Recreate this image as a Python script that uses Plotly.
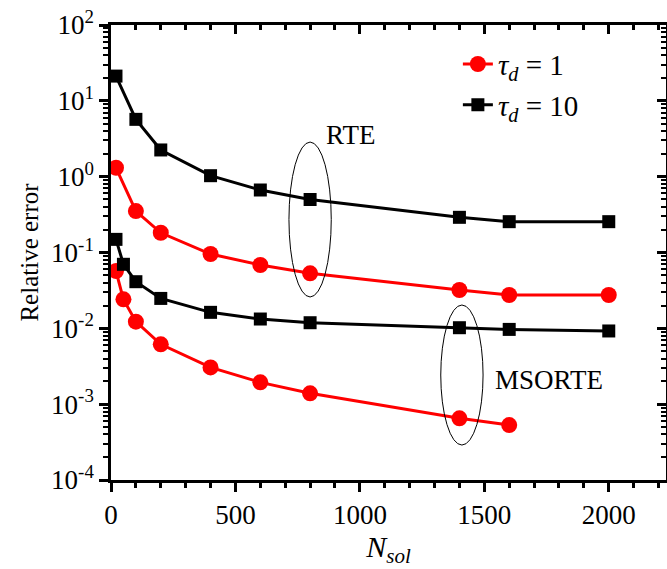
import plotly.graph_objects as go

# Number of solution points and relative errors for each method / optical thickness
n_rte = [20, 100, 200, 400, 600, 800, 1400, 1600, 2000]
rte_tau1 = [1.31, 0.352, 0.182, 0.0955, 0.0684, 0.0531, 0.032, 0.0275, 0.0275]
rte_tau10 = [21.2, 5.7, 2.25, 1.03, 0.667, 0.50, 0.291, 0.255, 0.255]

n_msorte_tau1 = [20, 50, 100, 200, 400, 600, 800, 1400, 1600]
msorte_tau1 = [0.057, 0.0241, 0.01224, 0.00615, 0.00305, 0.00194, 0.00139, 0.00065, 0.00053]
n_msorte_tau10 = [20, 50, 100, 200, 400, 600, 800, 1400, 1600, 2000]
msorte_tau10 = [0.149, 0.0699, 0.0412, 0.0248, 0.01625, 0.01327, 0.01186, 0.01019, 0.00968, 0.00923]

x_ticks = [0, 500, 1000, 1500, 2000]
x_range = [0, 2230]
y_exponents = [-4, -3, -2, -1, 0, 1, 2]
y_tickvals = [10.0 ** e for e in y_exponents]
y_ticktext = [f"10<sup>{e}</sup>" for e in y_exponents]
y_minor = [m * 10.0 ** e for e in y_exponents[:-1] for m in range(2, 10)]
y_range_log = [-4, 2]

RED = "#ff0000"
BLACK = "#000000"
FONT = "Liberation Serif, Times New Roman, serif"

fig = go.Figure()

red_line = dict(color=RED, width=3)
red_marker = dict(symbol="circle", size=16, color=RED)
black_line = dict(color=BLACK, width=3)
black_marker = dict(symbol="square", size=13, color=BLACK)

fig.add_trace(go.Scatter(x=n_rte, y=rte_tau1, mode="lines+markers", line=red_line,
                         marker=red_marker, name="<i>τ</i><sub><i>d</i></sub> = 1"))
fig.add_trace(go.Scatter(x=n_rte, y=rte_tau10, mode="lines+markers", line=black_line,
                         marker=black_marker, name="<i>τ</i><sub><i>d</i></sub> = 10"))
fig.add_trace(go.Scatter(x=n_msorte_tau1, y=msorte_tau1, mode="lines+markers", line=red_line,
                         marker=red_marker, showlegend=False))
fig.add_trace(go.Scatter(x=n_msorte_tau10, y=msorte_tau10, mode="lines+markers", line=black_line,
                         marker=black_marker, showlegend=False))

# Invisible trace that carries the mirrored top / right axes
fig.add_trace(go.Scatter(x=x_range, y=[1, 1], xaxis="x2", yaxis="y2", mode="none",
                         showlegend=False, hoverinfo="skip"))

axis_common = dict(showline=True, linecolor=BLACK, linewidth=2.5, showgrid=False,
                   zeroline=False, tickcolor=BLACK, tickwidth=2.5)

fig.update_layout(
    width=667, height=569,
    margin=dict(l=111, r=1, t=25, b=89),
    plot_bgcolor="white", paper_bgcolor="white",
    font=dict(family=FONT, size=26, color=BLACK),
    showlegend=True,
    legend=dict(x=0.625, y=0.97, xanchor="left", yanchor="top",
                bgcolor="rgba(0,0,0,0)", font=dict(family=FONT, size=29),
                tracegroupgap=0),
    xaxis=dict(**axis_common, range=x_range, tickvals=x_ticks, ticks="outside", ticklen=9,
               minor=dict(dtick=100, ticks="outside", ticklen=5, tickwidth=2.5, tickcolor=BLACK),
               tickfont=dict(family=FONT, size=27),
               title=dict(text="<i>N</i><sub><i>sol</i></sub>", font=dict(family=FONT, size=30),
                          standoff=2)),
    yaxis=dict(**axis_common, type="log", range=y_range_log, tickvals=y_tickvals,
               ticktext=y_ticktext, ticks="outside", ticklen=9,
               minor=dict(ticks="outside", ticklen=5, tickwidth=2, tickcolor=BLACK,
                          tickvals=y_minor),
               tickfont=dict(family=FONT, size=27),
               title=dict(text="Relative error", font=dict(family=FONT, size=25), standoff=6)),
    xaxis2=dict(**axis_common, overlaying="x", side="top", anchor="y2", range=x_range,
                tickvals=x_ticks, ticks="inside", ticklen=9, showticklabels=False,
                minor=dict(dtick=100, ticks="inside", ticklen=5, tickwidth=2.5, tickcolor=BLACK)),
    yaxis2=dict(**axis_common, overlaying="y", side="right", anchor="x2", type="log",
                range=y_range_log, tickvals=y_tickvals, ticks="inside", ticklen=9,
                showticklabels=False,
                minor=dict(ticks="inside", ticklen=5, tickwidth=2, tickcolor=BLACK,
                           tickvals=y_minor)),
)

# Ellipses grouping the RTE and MSORTE curves
fig.add_shape(type="circle", xref="x", yref="y", x0=715, x1=885, y0=0.0259, y1=2.86,
              line=dict(color=BLACK, width=1))
fig.add_shape(type="circle", xref="x", yref="y", x0=1325, x1=1495, y0=0.000289, y1=0.0203,
              line=dict(color=BLACK, width=1))

# Method labels (annotation y on a log axis is given as log10 of the value)
fig.add_annotation(text="RTE", x=963, y=0.55, xref="x", yref="y", showarrow=False,
                   font=dict(family=FONT, size=27))
fig.add_annotation(text="MSORTE", x=1758, y=-2.68, xref="x", yref="y", showarrow=False,
                   font=dict(family=FONT, size=27))

fig.write_html("out.html")
